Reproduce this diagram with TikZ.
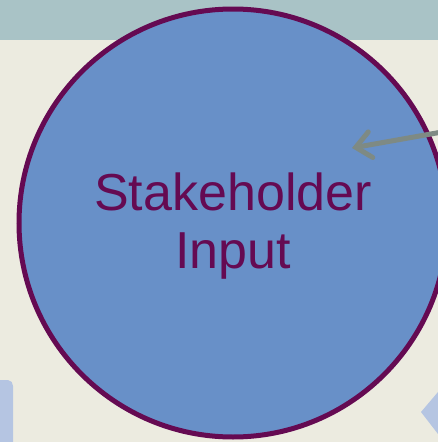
\documentclass[tikz,border=0pt]{standalone}
\usepackage{fontspec}
\setmainfont{Liberation Sans}
\usetikzlibrary{arrows.meta}
\definecolor{bgcream}{HTML}{ECEBE0}
\definecolor{bandteal}{HTML}{A9C3C6}
\definecolor{circfill}{HTML}{6890C8}
\definecolor{plum}{HTML}{650A52}
\definecolor{arrowgrey}{HTML}{7E8A84}
\definecolor{paleblue}{HTML}{B5C5E2}
\tikzset{
  bubble/.style={circle, draw=plum, line width=5pt, fill=circfill, minimum size=428pt, inner sep=0pt},
  bubbletext/.style={text=plum, font=\fontsize{52}{58}\selectfont, align=center},
  pointer/.style={draw=arrowgrey, line width=5pt, line cap=round, -{Straight Barb[length=15pt,width=26pt,line cap=round]}},
  sideshape/.style={fill=paleblue, draw=none}
}
\begin{document}
\begin{tikzpicture}[x=1pt,y=-1pt]
\useasboundingbox (0,0) rectangle (438,442);
\fill[bgcream] (0,0) rectangle (438,442);
\fill[bandteal] (0,0) rectangle (438,40);
\fill[sideshape] (0,442) -- (0,380) -- (8,380) to[out=0,in=90] (13,386) -- (13,442) -- cycle;
\fill[sideshape] (421,412) -- (438,392) -- (438,434) -- cycle;
\node[bubble] (stake) at (233,223) {};
\node[bubbletext] (label) at (233,226) {Stakeholder\\Input};
\coordinate (arrowstart) at (442,132);
\coordinate (arrowend) at (352,148);
\draw[pointer] (arrowstart) -- (arrowend);
\end{tikzpicture}
\end{document}
